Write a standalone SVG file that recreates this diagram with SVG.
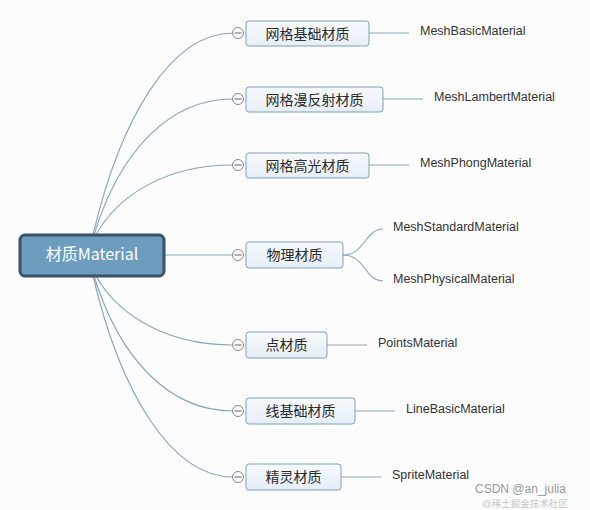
<svg xmlns="http://www.w3.org/2000/svg" width="590" height="510" viewBox="0 0 590 510">
<defs>
<linearGradient id="boxg" x1="0" y1="0" x2="0" y2="1">
<stop offset="0" stop-color="#f6f9fc"/>
<stop offset="1" stop-color="#e6eef6"/>
</linearGradient>
<style>
.conn{fill:none;stroke:#86a4bd;stroke-width:1.1}
.box{fill:url(#boxg);stroke:#7f9fbe;stroke-width:1}
.root{fill:#6c9cbe;stroke:#3a5167;stroke-width:3}
.nt{font-family:"Noto Sans CJK SC","Liberation Sans",sans-serif;font-size:14px;fill:#2a2a2a;text-anchor:middle;dominant-baseline:central}
.lt{font-family:"Liberation Sans","Noto Sans",sans-serif;font-size:12.5px;fill:#333;dominant-baseline:central}
.rt{font-family:"Noto Sans CJK SC","Liberation Sans",sans-serif;font-size:16px;fill:#fff;text-anchor:middle;dominant-baseline:central}
.tog{fill:#fafafa;stroke:#8a8a8a;stroke-width:1}
.togl{stroke:#666;stroke-width:1}
.wm{font-family:"Liberation Sans","Noto Sans CJK SC",sans-serif;font-size:12px;fill:#9a9a9a}
</style>
</defs>
<rect width="590" height="510" fill="#fcfcfd"/>
<g id="connectors">
<path class="conn" d="M93,235 C120,120 170,33 233,33"/>
<path class="conn" d="M94,235 C120,150 170,99 233,99"/>
<path class="conn" d="M96,235 C115,200 160,165 233,165"/>
<path class="conn" d="M165,255 L233,255"/>
<path class="conn" d="M96,276 C115,310 160,345 233,345"/>
<path class="conn" d="M94,276 C120,360 170,411 233,411"/>
<path class="conn" d="M93,276 C120,390 170,477 233,477"/>
<path class="conn" d="M369,33 L409,33"/>
<path class="conn" d="M383,99 L423,99"/>
<path class="conn" d="M369,165 L409,165"/>
<path class="conn" d="M343,255 C365,255 365,229 383,229"/>
<path class="conn" d="M343,255 C365,255 365,281 383,281"/>
<path class="conn" d="M327,345 L367,345"/>
<path class="conn" d="M355,411 L395,411"/>
<path class="conn" d="M341,477 L381,477"/>
</g>
<g id="root">
<rect class="root" x="20" y="235" width="144" height="41" rx="5"/>
<text class="rt" x="92" y="253">材质Material</text>
</g>
<g id="n1">
<rect class="box" x="246" y="21" width="123" height="25" rx="3"/>
<text class="nt" x="307.5" y="33">网格基础材质</text>
<circle class="tog" cx="238" cy="33" r="5.5"/><line class="togl" x1="234.5" y1="33" x2="241.5" y2="33"/>
</g>
<g id="n2">
<rect class="box" x="246" y="87" width="137" height="25" rx="3"/>
<text class="nt" x="314.5" y="99">网格漫反射材质</text>
<circle class="tog" cx="238" cy="99" r="5.5"/><line class="togl" x1="234.5" y1="99" x2="241.5" y2="99"/>
</g>
<g id="n3">
<rect class="box" x="246" y="153" width="123" height="25" rx="3"/>
<text class="nt" x="307.5" y="165">网格高光材质</text>
<circle class="tog" cx="238" cy="165" r="5.5"/><line class="togl" x1="234.5" y1="165" x2="241.5" y2="165"/>
</g>
<g id="n4">
<rect class="box" x="246" y="242" width="97" height="26" rx="3"/>
<text class="nt" x="294.5" y="254">物理材质</text>
<circle class="tog" cx="238" cy="255" r="5.5"/><line class="togl" x1="234.5" y1="255" x2="241.5" y2="255"/>
</g>
<g id="n5">
<rect class="box" x="246" y="332" width="81" height="26" rx="3"/>
<text class="nt" x="286.5" y="344">点材质</text>
<circle class="tog" cx="238" cy="345" r="5.5"/><line class="togl" x1="234.5" y1="345" x2="241.5" y2="345"/>
</g>
<g id="n6">
<rect class="box" x="246" y="398" width="109" height="26" rx="3"/>
<text class="nt" x="300.5" y="410">线基础材质</text>
<circle class="tog" cx="238" cy="411" r="5.5"/><line class="togl" x1="234.5" y1="411" x2="241.5" y2="411"/>
</g>
<g id="n7">
<rect class="box" x="246" y="464" width="95" height="26" rx="3"/>
<text class="nt" x="293.5" y="476">精灵材质</text>
<circle class="tog" cx="238" cy="477" r="5.5"/><line class="togl" x1="234.5" y1="477" x2="241.5" y2="477"/>
</g>
<g id="l1"><text class="lt" x="420" y="31">MeshBasicMaterial</text></g>
<g id="l2"><text class="lt" x="434" y="97">MeshLambertMaterial</text></g>
<g id="l3"><text class="lt" x="420" y="163">MeshPhongMaterial</text></g>
<g id="l4a"><text class="lt" x="393" y="227">MeshStandardMaterial</text></g>
<g id="l4b"><text class="lt" x="393" y="279">MeshPhysicalMaterial</text></g>
<g id="l5"><text class="lt" x="378" y="343">PointsMaterial</text></g>
<g id="l6"><text class="lt" x="406" y="409">LineBasicMaterial</text></g>
<g id="l7"><text class="lt" x="392" y="475">SpriteMaterial</text></g>
<g id="watermark">
<text class="wm" x="475" y="493">CSDN @an_julia</text>
<text class="wm" x="482" y="507" style="font-size:9.5px;fill:#c4c4c4">@稀土掘金技术社区</text>
</g>
</svg>
